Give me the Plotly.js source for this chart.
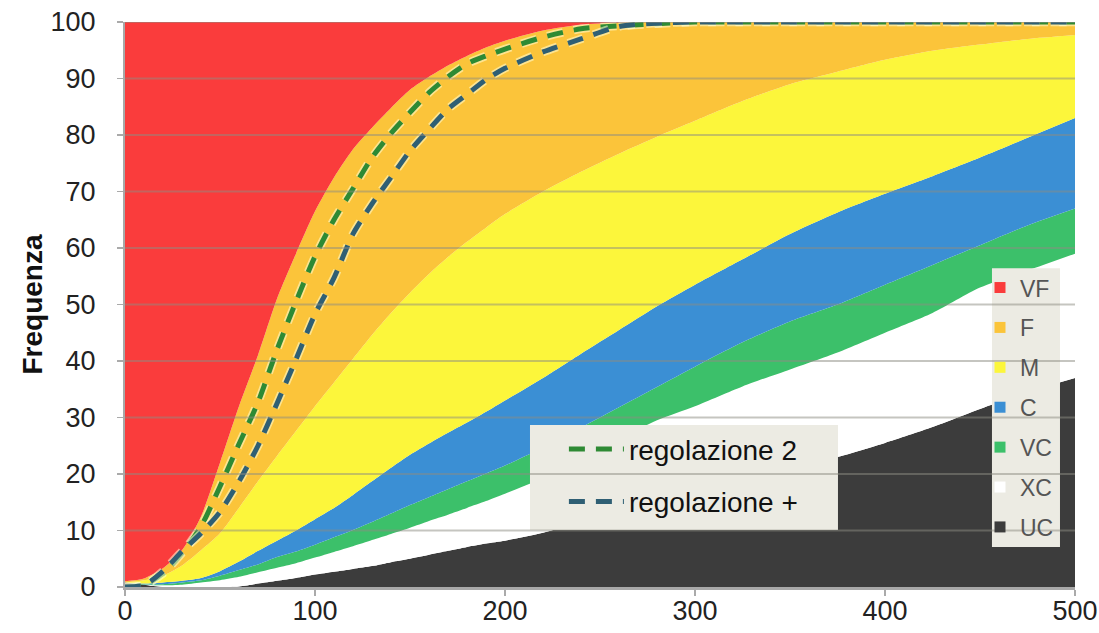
<!DOCTYPE html>
<html><head><meta charset="utf-8">
<script src="https://cdn.plot.ly/plotly-3.0.1.min.js"></script>
<style>html,body{margin:0;padding:0;background:#fff}#chart{width:1099px;height:633px}</style>
</head><body><div id="chart"></div>
<script>
// x positions shared by all series
const xs = [0,10,20,30,40,50,60,70,80,90,100,110,120,130,140,150,160,170,180,190,200,220,240,260,280,300,325,350,375,400,425,450,475,500];

// cumulative upper boundary of each class (bottom to top)
const cumUC = [0.8,0.4,0,0,0,0,0.1,0.6,1.1,1.6,2.2,2.7,3.2,3.7,4.4,5,5.7,6.4,7.1,7.7,8.2,9.6,11.5,13.5,15.4,17,19,21,23,25.5,28.3,31.5,34.5,37];
const cumXC = [0.8,0.4,0.3,0.4,0.8,1.2,1.8,2.6,3.4,4.2,5.2,6.2,7.2,8.3,9.4,10.5,11.7,12.8,14,15.2,16.5,19.3,22.7,26.2,29.5,32,35.5,38.5,41.5,45,48.5,53,56,59];
const cumVC = [0.8,0.5,0.5,0.8,1.2,2,3,4,5.3,6.3,7.5,8.8,10.1,11.5,13,14.5,15.9,17.3,18.7,20.1,21.5,24.7,28.2,31.8,35.4,39,43.3,47,50,53.5,57,60.5,64,67];
const cumC  = [0.8,0.6,0.8,1.1,1.6,2.8,4.5,6.4,8.2,10,12,14,16.3,18.7,21.1,23.4,25.4,27.3,29.1,31,33,37,41.3,45.5,49.7,53.5,58,62.5,66.3,69.6,72.7,76,79.5,83];
const cumM  = [0.8,1.2,2,3.8,6.5,9.5,14,18.7,23.2,27.6,32,36.2,40.4,44.6,48.5,52.1,55.4,58.4,61.1,63.6,66,70,73.5,76.7,79.7,82.5,86,89,91.2,93.3,94.9,96,97,97.7];
const cumF  = [1,1.5,3.3,6.5,12.5,22,32,41,51,59,66.5,72.5,77.5,81.3,84.8,88,90.3,92.3,94,95.5,96.7,98.5,99.5,99.9,100,100,100,100,100,100,100,100,100,100];
const cumVF = [100,100,100,100,100,100,100,100,100,100,100,100,100,100,100,100,100,100,100,100,100,100,100,100,100,100,100,100,100,100,100,100,100,100];

// dashed curves
const reg2    = [0,0.3,2.4,6,10.7,17.8,25.3,32.7,42,50.5,58.5,65,70.5,76,80.3,84,87.5,90.3,92.6,94,95.2,97.3,98.8,99.3,99.7,100,100,100,100,100,100,100,100,100];
const regPlus = [0,0.3,2.8,6.3,9.5,13.3,18.7,25,32.5,40.3,48.3,54.7,62.5,67.8,72.5,77.2,81,84.6,87.2,89.8,91.8,94.7,97,99.2,99.8,100,100,100,100,100,100,100,100,100];

const layerNames  = ['UC','XC','VC','C','M','F','VF'];
const layerColors = ['#3c3c3c','#ffffff','#3cc06a','#3b8fd4','#fcf63b','#fbc43a','#fa3c3c'];
const lineNames = ['regolazione 2','regolazione +'];
const lineColors = ['#2e8a34','#2f5f74'];

const yTicks = [0,10,20,30,40,50,60,70,80,90,100];
const xTicks = [0,100,200,300,400,500];

const cumSeries = [cumUC,cumXC,cumVC,cumC,cumM,cumF,cumVF];
const traces = cumSeries.map((ys,i)=>({
  x: xs, y: ys, type:'scatter', mode:'lines',
  line:{width:0,color:layerColors[i],shape:'spline',smoothing:0.7},
  fill: i===0 ? 'tozeroy' : 'tonexty',
  fillcolor: layerColors[i],
  showlegend:false, hoverinfo:'skip'
}));
const dash = '16px,11px';
[reg2, regPlus].forEach((ys,i)=>{
  // light halo under the dashes
  traces.push({x:xs,y:ys,type:'scatter',mode:'lines',showlegend:false,hoverinfo:'skip',
    line:{color:'rgba(255,255,215,0.55)',width:8.5,dash:dash,shape:'spline',smoothing:0.7}});
  traces.push({x:xs,y:ys,type:'scatter',mode:'lines',name:lineNames[i],
    line:{color:lineColors[i],width:5,dash:dash,shape:'spline',smoothing:0.7},
    legend:'legend',legendgroup:'g'+i});
});
for (let i=layerNames.length-1;i>=0;i--){
  traces.push({x:[null],y:[null],type:'scatter',mode:'markers',name:layerNames[i],
    marker:{symbol:'square',size:11,color:layerColors[i]},
    legend:'legend2',legendgroup:'l'+i});
}

const shapes = [];
// legend boxes
shapes.push({type:'rect',xref:'paper',yref:'paper',x0:0.4263,x1:0.7505,y0:0.1008,y1:0.2866,
  fillcolor:'#ecebe3',line:{width:0},layer:'above'});
shapes.push({type:'rect',xref:'paper',yref:'paper',x0:0.9126,x1:0.9842,y0:0.0708,y1:0.5643,
  fillcolor:'#ecebe3',line:{width:0},layer:'above'});
// gridlines drawn above the areas
yTicks.filter(v=>v>0).forEach(v=>{
  shapes.push({type:'line',xref:'paper',x0:0,x1:1,yref:'y',y0:v,y1:v,
    line:{color:'rgba(140,140,130,0.5)',width:2},layer:'above'});
});

const layout = {
  width:1099,height:633,
  margin:{l:125,r:24,t:22,b:46,pad:0},
  paper_bgcolor:'#ffffff',plot_bgcolor:'#ffffff',
  font:{family:'"Liberation Sans", Arial, sans-serif',color:'#222'},
  showlegend:true,
  xaxis:{range:[0,500],tickvals:xTicks,ticks:'outside',ticklen:6,tickcolor:'#aaaaaa',tickwidth:1.5,
    showgrid:false,zeroline:false,showline:true,linecolor:'#a8a8a8',linewidth:3,
    tickfont:{size:27,color:'#222'},ticklabelstandoff:-8,fixedrange:true},
  yaxis:{range:[0,100],tickvals:yTicks,ticks:'outside',ticklen:6,tickcolor:'#aaaaaa',tickwidth:1.5,
    showgrid:false,zeroline:false,showline:true,linecolor:'#a8a8a8',linewidth:2,
    tickfont:{size:27,color:'#222'},ticklabelstandoff:16,
    title:{text:'Frequenza',font:{size:28,weight:'bold',color:'#111'},standoff:0},fixedrange:true},
  shapes:shapes,
  legend:{x:0.462,y:0.288,xanchor:'left',yanchor:'top',bgcolor:'rgba(0,0,0,0)',
    font:{size:28,color:'#111'},itemwidth:55,traceorder:'grouped',tracegroupgap:13},
  legend2:{x:0.9,y:0.568,xanchor:'left',yanchor:'top',bgcolor:'rgba(0,0,0,0)',
    font:{size:23,color:'#555'},itemwidth:30,traceorder:'grouped',tracegroupgap:7}
};

Plotly.newPlot('chart',traces,layout,{staticPlot:true,displayModeBar:false});
</script>
</body></html>
